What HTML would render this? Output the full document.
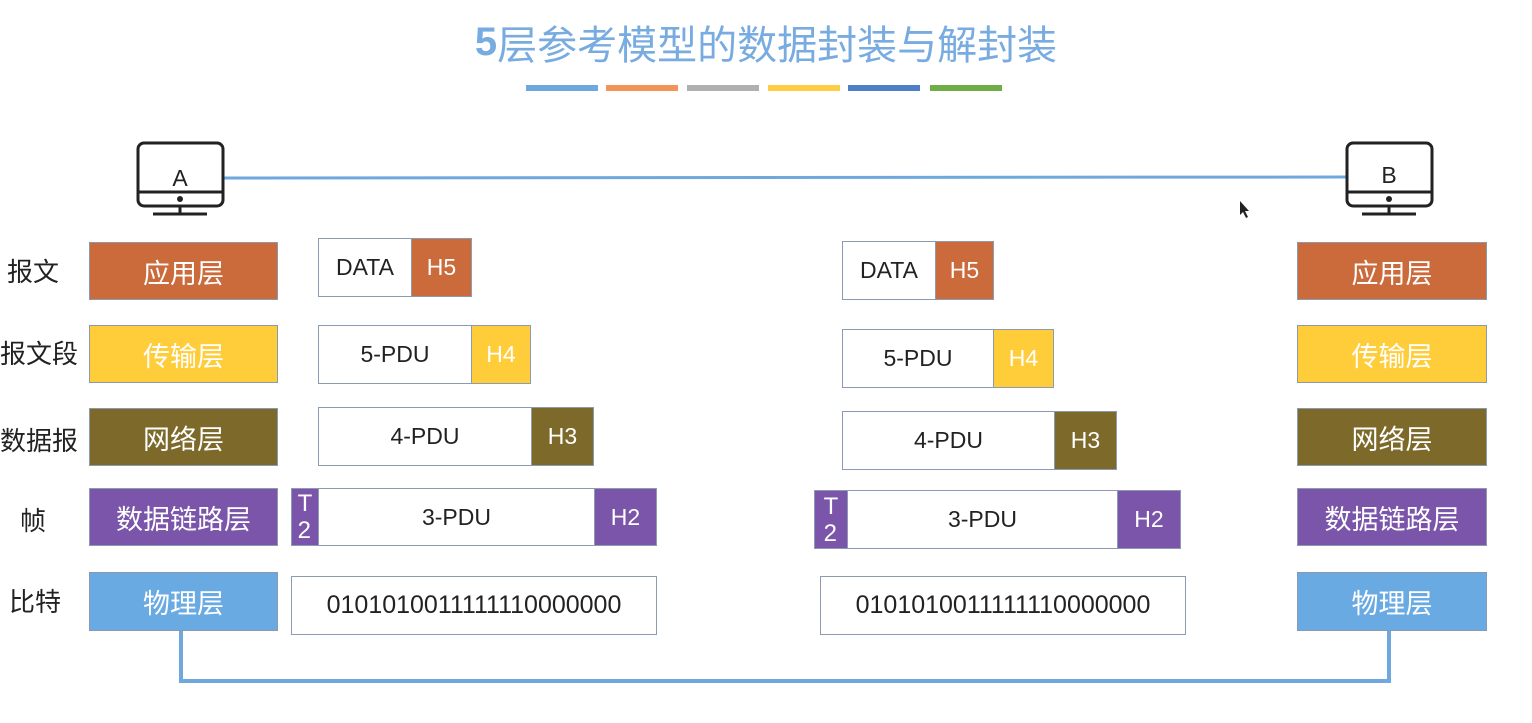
<!DOCTYPE html>
<html><head><meta charset="utf-8"><style>
body{margin:0;width:1532px;height:723px;background:#fff;position:relative;overflow:hidden;font-family:"Liberation Sans","Noto Sans CJK SC",sans-serif}
.a{position:absolute;box-sizing:border-box;display:flex;align-items:center;justify-content:center}
.l{color:#fff;font-size:27px;border:1px solid #8a9ab0}
.w{background:#fff;border:1px solid #8b9bb3;color:#222;font-size:23px}
.h{color:#fff;font-size:23px;border:1px solid #8b9bb3}
.t{position:absolute;font-size:26px;color:#222}
.bar{position:absolute;top:85px;height:6px;width:72px}
</style></head><body>
<div class="a" style="left:0;top:16px;width:1532px;height:52px;font-size:40px;color:#78ace0"><b>5</b>层参考模型的数据封装与解封装</div>
<div class="bar" style="left:526px;background:#6fa8dc"></div>
<div class="bar" style="left:606px;background:#f0945a"></div>
<div class="bar" style="left:687px;background:#b0b0b0"></div>
<div class="bar" style="left:768px;background:#ffcc44"></div>
<div class="bar" style="left:848px;background:#4f7fc4"></div>
<div class="bar" style="left:930px;background:#70ad47"></div>

<svg style="position:absolute;left:0;top:0" width="1532" height="723">
<line x1="223" y1="178" x2="1347" y2="177" stroke="#6fa8dc" stroke-width="3"/>
<polyline points="181,631 181,681 1389,681 1389,631" fill="none" stroke="#6fa8dc" stroke-width="4"/>
<g fill="none" stroke="#222" stroke-width="3">
<rect x="138" y="143" width="85" height="63" rx="6"/><line x1="138" y1="192" x2="223" y2="192"/><line x1="180" y1="206" x2="180" y2="213"/><line x1="153" y1="214" x2="207" y2="214"/>
<rect x="1347" y="143" width="85" height="63" rx="6"/><line x1="1347" y1="192" x2="1432" y2="192"/><line x1="1389" y1="206" x2="1389" y2="213"/><line x1="1362" y1="214" x2="1416" y2="214"/>
</g>
<circle cx="180" cy="199" r="3" fill="#222"/><circle cx="1389" cy="199" r="3" fill="#222"/>
<text x="180" y="186" font-size="23" text-anchor="middle" fill="#222" font-family="Liberation Sans">A</text>
<text x="1389" y="183" font-size="23" text-anchor="middle" fill="#222" font-family="Liberation Sans">B</text>
<path d="M1240 201 l0 14 l3 -3 l3 6 l2 -1 l-3 -6 l4 0 z" fill="#222"/>
</svg>

<div class="t" style="left:7px;top:252px">报文</div>
<div class="t" style="left:0;top:334px">报文段</div>
<div class="t" style="left:0;top:421px">数据报</div>
<div class="t" style="left:20px;top:501px">帧</div>
<div class="t" style="left:9px;top:582px">比特</div>

<div class="a l" style="left:89px;top:242px;width:189px;height:58px;background:#cb6a3a">应用层</div>
<div class="a l" style="left:89px;top:325px;width:189px;height:58px;background:#ffcc3a">传输层</div>
<div class="a l" style="left:89px;top:408px;width:189px;height:58px;background:#7d6a2b">网络层</div>
<div class="a l" style="left:89px;top:488px;width:189px;height:58px;background:#7b55aa">数据链路层</div>
<div class="a l" style="left:89px;top:572px;width:189px;height:59px;background:#6aaae2">物理层</div>
<div class="a l" style="left:1297px;top:242px;width:190px;height:58px;background:#cb6a3a">应用层</div>
<div class="a l" style="left:1297px;top:325px;width:190px;height:58px;background:#ffcc3a">传输层</div>
<div class="a l" style="left:1297px;top:408px;width:190px;height:58px;background:#7d6a2b">网络层</div>
<div class="a l" style="left:1297px;top:488px;width:190px;height:58px;background:#7b55aa">数据链路层</div>
<div class="a l" style="left:1297px;top:572px;width:190px;height:59px;background:#6aaae2">物理层</div>

<div class="a w" style="left:318px;top:238px;width:94px;height:59px">DATA</div>
<div class="a h" style="left:411px;top:238px;width:61px;height:59px;background:#cb6a3a">H5</div>
<div class="a w" style="left:318px;top:325px;width:154px;height:59px">5-PDU</div>
<div class="a h" style="left:471px;top:325px;width:60px;height:59px;background:#ffcc3a">H4</div>
<div class="a w" style="left:318px;top:407px;width:214px;height:59px">4-PDU</div>
<div class="a h" style="left:531px;top:407px;width:63px;height:59px;background:#7d6a2b">H3</div>
<div class="a w" style="left:318px;top:488px;width:277px;height:58px">3-PDU</div>
<div class="a h" style="left:594px;top:488px;width:63px;height:58px;background:#7b55aa">H2</div>
<div class="a h" style="left:291px;top:488px;width:28px;height:58px;background:#7b55aa;line-height:27px;flex-direction:column;font-size:24px">T<br>2</div>
<div class="a w" style="left:291px;top:576px;width:366px;height:59px;font-size:25px">0101010011111110000000</div>

<div class="a w" style="left:842px;top:241px;width:94px;height:59px">DATA</div>
<div class="a h" style="left:935px;top:241px;width:59px;height:59px;background:#cb6a3a">H5</div>
<div class="a w" style="left:842px;top:329px;width:152px;height:59px">5-PDU</div>
<div class="a h" style="left:993px;top:329px;width:61px;height:59px;background:#ffcc3a">H4</div>
<div class="a w" style="left:842px;top:411px;width:213px;height:59px">4-PDU</div>
<div class="a h" style="left:1054px;top:411px;width:63px;height:59px;background:#7d6a2b">H3</div>
<div class="a w" style="left:847px;top:490px;width:271px;height:59px">3-PDU</div>
<div class="a h" style="left:1117px;top:490px;width:64px;height:59px;background:#7b55aa">H2</div>
<div class="a h" style="left:814px;top:490px;width:34px;height:59px;background:#7b55aa;line-height:27px;flex-direction:column;font-size:24px">T<br>2</div>
<div class="a w" style="left:820px;top:576px;width:366px;height:59px;font-size:25px">0101010011111110000000</div>
</body></html>
